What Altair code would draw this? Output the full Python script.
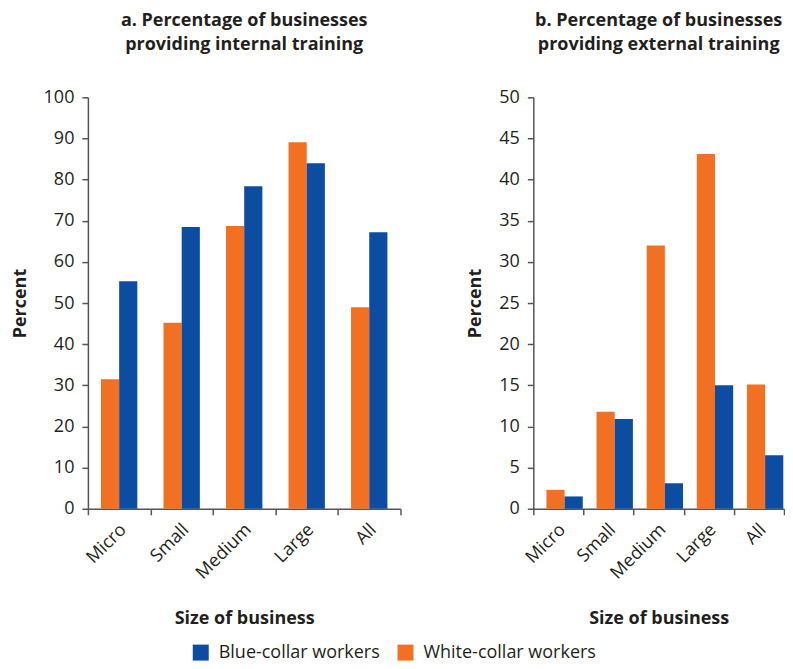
import altair as alt
import pandas as pd

sizes = ["Micro", "Small", "Medium", "Large", "All"]
series_names = ["Blue-collar workers", "White-collar workers"]

internal_white = [31.5, 45.2, 68.7, 89.1, 49.0]
internal_blue = [55.3, 68.5, 78.4, 84.0, 67.2]
external_white = [2.3, 11.8, 32.0, 43.1, 15.1]
external_blue = [1.5, 10.9, 3.1, 15.0, 6.5]

title_a = ["a. Percentage of businesses", "providing internal training"]
title_b = ["b. Percentage of businesses", "providing external training"]

BLUE = "#0C4DA2"
ORANGE = "#F27022"
FONT = "Open Sans"
TEXT = "#231F20"


def make_df(white, blue):
    rows = []
    for s, w, b in zip(sizes, white, blue):
        rows.append({"size": s, "series": "White-collar workers", "value": w})
        rows.append({"size": s, "series": "Blue-collar workers", "value": b})
    return pd.DataFrame(rows)


def panel(df, title, ymax, step, width, pad_outer, show_legend):
    legend = None
    if show_legend:
        legend = alt.Legend(
            title=None, orient="none", direction="horizontal",
            legendX=104, legendY=547, symbolType="square", symbolSize=256,
            symbolStrokeWidth=0, labelFontSize=18, labelFont=FONT, labelColor=TEXT,
            columnPadding=16, labelOffset=9, labelLimit=300,
        )
    return alt.Chart(df).mark_bar().encode(
        x=alt.X(
            "size:N", sort=sizes,
            scale=alt.Scale(paddingInner=0, paddingOuter=0),
            axis=alt.Axis(
                title="Size of business", labelAngle=-45, tickBand="extent",
                labelAlign="right", labelBaseline="middle", labelPadding=12,
                labelOffset=4, titlePadding=27,
            ),
        ),
        xOffset=alt.XOffset(
            "series:N", sort=["White-collar workers", "Blue-collar workers"],
            scale=alt.Scale(paddingInner=0, paddingOuter=pad_outer),
        ),
        y=alt.Y(
            "value:Q",
            scale=alt.Scale(domain=[0, ymax], nice=False),
            axis=alt.Axis(
                title="Percent", values=list(range(0, ymax + 1, step)),
                grid=False, titlePadding=14, labelPadding=8,
            ),
        ),
        color=alt.Color(
            "series:N",
            scale=alt.Scale(domain=series_names, range=[BLUE, ORANGE]),
            legend=legend,
        ),
    ).properties(
        width=width, height=412,
        title=alt.TitleParams(text=title, anchor="middle", offset=34),
    )


left = panel(make_df(internal_white, internal_blue), title_a, 100, 10, 313, 0.72, True)
right = panel(make_df(external_white, external_blue), title_b, 50, 5, 251, 0.62, False)

chart = alt.hconcat(left, right, spacing=65).properties(
    padding={"left": 3, "top": 4, "right": 0, "bottom": 0}
).configure_view(
    stroke=None
).configure_axis(
    labelFont=FONT, titleFont=FONT, labelFontSize=18, titleFontSize=18,
    labelColor=TEXT, titleColor=TEXT, titleFontWeight="bold",
    domainColor="#555555", tickColor="#555555", domainWidth=1.5, tickWidth=1.5,
    tickSize=6,
).configure_title(
    font=FONT, fontSize=18, fontWeight="bold", color=TEXT, lineHeight=24,
).configure_legend(
    labelFont=FONT,
)

chart.save("out.html", embed_options={"renderer": "svg", "actions": False})
